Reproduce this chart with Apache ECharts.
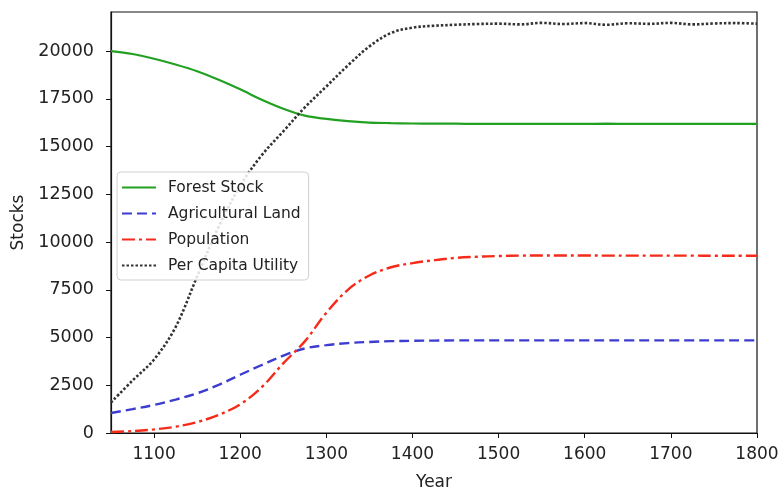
<!DOCTYPE html>
<html>
<head>
<meta charset="utf-8">
<script src="https://cdn.jsdelivr.net/npm/echarts@6/dist/echarts.min.js"></script>
<style>
  html, body { margin: 0; padding: 0; background: #fff; }
  #chart { width: 780px; height: 492px; }
</style>
</head>
<body>
<div id="chart"></div>
<script>
// values, every 25 years
const years = [1050, 1075, 1100, 1125, 1150, 1175, 1200, 1225, 1250, 1275, 1300, 1325, 1350, 1375, 1400,
  1425, 1450, 1475, 1500, 1525, 1550, 1575, 1600, 1625, 1650, 1675, 1700, 1725, 1750, 1775, 1800];

const forestStock = [20000, 19850, 19600, 19300, 18950, 18500, 18000, 17450, 16980, 16620, 16450, 16330, 16260, 16230, 16210,
  16200, 16200, 16190, 16190, 16190, 16190, 16190, 16190, 16200, 16190, 16190, 16190, 16190, 16190, 16190, 16190];

const agriLand = [1050, 1250, 1470, 1750, 2080, 2520, 3050, 3560, 4050, 4430, 4600, 4710, 4770, 4810, 4830,
  4840, 4850, 4850, 4850, 4850, 4850, 4850, 4850, 4850, 4850, 4850, 4850, 4850, 4850, 4850, 4850];

const population = [50, 100, 190, 330, 570, 950, 1500, 2400, 3650, 4800, 6300, 7500, 8250, 8680, 8900,
  9050, 9170, 9230, 9270, 9290, 9300, 9300, 9300, 9290, 9290, 9290, 9290, 9290, 9280, 9280, 9280];

const perCapita = [1600, 2750, 3850, 5550, 8200, 10800, 12950, 14550, 15800, 17050, 18150, 19250, 20250, 20950, 21230,
  21330, 21380, 21420, 21440, 21400, 21480, 21420, 21470, 21380, 21460, 21430, 21480, 21400, 21450, 21470, 21440];

const xTicks = [1100, 1200, 1300, 1400, 1500, 1600, 1700, 1800];
const yTicks = [0, 2500, 5000, 7500, 10000, 12500, 15000, 17500, 20000];

const pairs = vals => years.map((y, i) => [y, vals[i]]);

const chart = echarts.init(document.getElementById('chart'));

const lineSeries = (name, vals, color, type, width) => ({
  name: name,
  type: 'line',
  data: pairs(vals),
  smooth: 0.35,
  symbol: 'none',
  lineStyle: { color: color, width: width, type: type },
  itemStyle: { color: color }
});

const font = 'DejaVu Sans';

chart.setOption({
  animation: false,
  grid: {
    left: 111, right: 23, top: 12, bottom: 59,
    outerBoundsMode: 'none', containLabel: false,
    show: true, borderColor: '#111', borderWidth: 1.2
  },
  legend: {
    orient: 'vertical',
    left: 117, top: 172,
    padding: [7, 8, 6, 4],
    itemWidth: 34, itemHeight: 14, itemGap: 9,
    backgroundColor: 'rgba(255,255,255,0.85)',
    borderColor: '#d0d0d0', borderWidth: 1, borderRadius: 4,
    itemStyle: { opacity: 0 },
    textStyle: { fontFamily: font, fontSize: 15.5, lineHeight: 17, color: '#222', padding: [0, 0, 0, 7] },
    data: ['Forest Stock', 'Agricultural Land', 'Population', 'Per Capita Utility']
  },
  xAxis: {
    type: 'value', min: 1050, max: 1800,
    name: 'Year', nameLocation: 'middle', nameGap: 41,
    nameTextStyle: { fontFamily: font, fontSize: 17, color: '#222' },
    axisLine: { lineStyle: { color: '#111', width: 1.2 } },
    axisTick: { customValues: xTicks, length: 5, lineStyle: { color: '#111' } },
    axisLabel: { customValues: xTicks, fontFamily: font, fontSize: 17, color: '#222', margin: 13,
      formatter: v => String(v) },
    splitLine: { show: false }
  },
  yAxis: {
    type: 'value', min: 0, max: 22050,
    name: 'Stocks', nameLocation: 'middle', nameGap: 84,
    nameTextStyle: { fontFamily: font, fontSize: 17, color: '#222' },
    axisLine: { show: true, lineStyle: { color: '#111', width: 1.2 } },
    axisTick: { show: true, customValues: yTicks, length: 5, lineStyle: { color: '#111' } },
    axisLabel: { customValues: yTicks, fontFamily: font, fontSize: 17.5, color: '#222', margin: 17,
      formatter: v => String(v) },
    splitLine: { show: false }
  },
  series: [
    lineSeries('Forest Stock', forestStock, '#22a022', 'solid', 2.2),
    lineSeries('Agricultural Land', agriLand, '#3c3cd0', [10, 5], 2.4),
    lineSeries('Population', population, '#f52a1a', [13, 4, 3, 4], 2.4),
    lineSeries('Per Capita Utility', perCapita, '#333333', [2.5, 2], 2.6)
  ]
});
</script>
</body>
</html>
